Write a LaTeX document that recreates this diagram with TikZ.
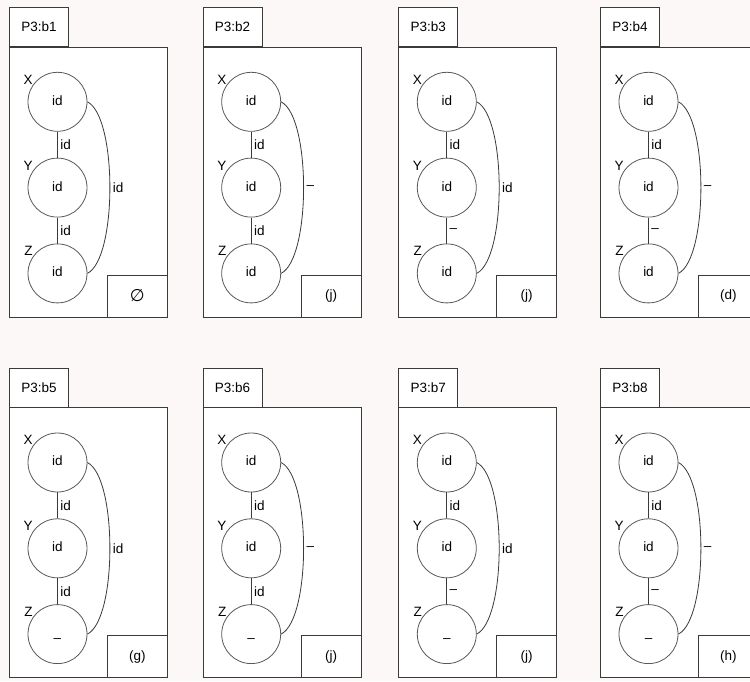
\documentclass[tikz,border=0pt]{standalone}
\usepackage{fontspec}
\setmainfont{Liberation Sans}
\newfontfamily\symfont{DejaVu Sans}
\usetikzlibrary{positioning}
\definecolor{paper}{HTML}{FDF8F8}
\definecolor{ink}{HTML}{3A3A3A}
\newcommand{\emptymark}{{\symfont\fontsize{17pt}{18pt}\selectfont ∅}}
\newcommand{\lowdash}{\raisebox{-5pt}{–}}

% one panel: x, y, name, XY label, YZ label, XZ label, Z content, corner text
\newcommand{\drawpanel}[8]{%
  \begin{scope}[shift={(#1,#2)}]
    \node[tab, anchor=north west] (t#3) at (0,0) {P3:#3};
    \node[frame, anchor=north west] (f#3) at (t#3.south west) {};
    \node[corner, anchor=south east] (c#3) at (f#3.south east) {#8};
    \node[vtx, label={[vlbl]145:X}] (x#3) at (48.5,94.5) {id};
    \node[vtx, below=26pt of x#3, label={[vlbl]145:Y}] (y#3) {id};
    \node[vtx, below=26pt of y#3, label={[vlbl]145:Z}] (z#3) {#7};
    \draw[edge] (x#3) -- node[elbl] {#4} (y#3);
    \draw[edge] (y#3) -- node[elbl] {#5} (z#3);
    \draw[edge] (x#3.east) .. controls +(30,15) and +(30,-15) .. node[elbl] {#6} (z#3.east);
  \end{scope}}

\begin{document}
\begin{tikzpicture}[
  x=1pt, y=-1pt,
  font=\fontsize{13.5pt}{16pt}\selectfont,
  line width=0.8pt,
  tab/.style={draw=ink, fill=white, minimum width=59pt, minimum height=38.5pt, inner sep=0pt},
  frame/.style={draw=ink, fill=white, minimum width=158pt, minimum height=270pt, inner sep=0pt},
  corner/.style={draw=ink, fill=white, minimum width=60pt, minimum height=42pt, inner sep=0pt},
  vtx/.style={circle, draw=ink!85, minimum size=59pt, inner sep=0pt, text height=1.6ex, text depth=0.3ex},
  vlbl/.style={inner sep=0pt},
  edge/.style={draw=ink},
  elbl/.style={right, inner sep=2.5pt}
]
\useasboundingbox (0,0) rectangle (750,681);
\fill[paper] (0,0) rectangle (750,681);
\clip (0,0) rectangle (750,681);

\drawpanel{9}{7.3}{b1}{id}{id}{id}{id}{\emptymark}
\drawpanel{202.7}{7.3}{b2}{id}{id}{–}{id}{(j)}
\drawpanel{398.3}{7.3}{b3}{id}{–}{id}{id}{(j)}
\drawpanel{600}{7.3}{b4}{id}{–}{–}{id}{(d)}

\drawpanel{9}{368}{b5}{id}{id}{id}{\lowdash}{(g)}
\drawpanel{202.7}{368}{b6}{id}{id}{–}{\lowdash}{(j)}
\drawpanel{398.3}{368}{b7}{id}{–}{id}{\lowdash}{(j)}
\drawpanel{600}{368}{b8}{id}{–}{–}{\lowdash}{(h)}
\end{tikzpicture}
\end{document}
